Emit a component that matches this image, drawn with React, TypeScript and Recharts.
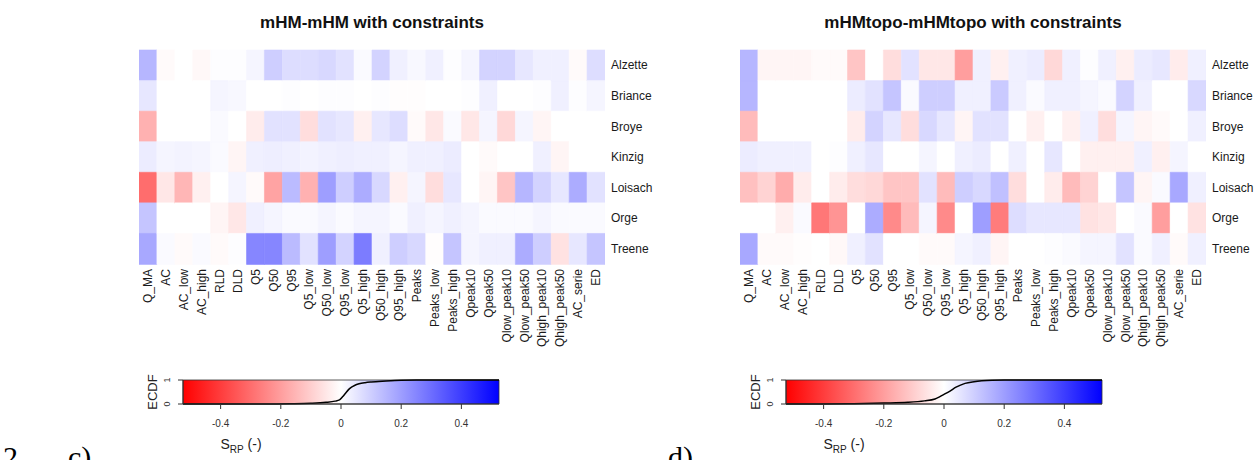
import React from "react";
import { ComposedChart, Bar, Cell, XAxis, YAxis, Line, ReferenceArea } from "recharts";

const rivers = ["Alzette", "Briance", "Broye", "Kinzig", "Loisach", "Orge", "Treene"];

const metrics = [
  "Q_MA", "AC", "AC_low", "AC_high", "RLD", "DLD", "Q5", "Q50", "Q95",
  "Q5_low", "Q50_low", "Q95_low", "Q5_high", "Q50_high", "Q95_high",
  "Peaks", "Peaks_low", "Peaks_high", "Qpeak10", "Qpeak50",
  "Qlow_peak10", "Qlow_peak50", "Qhigh_peak10", "Qhigh_peak50", "AC_serie", "ED",
];

// S_RP per river (rows) and metric (columns)
const mhmValues = [
  [0.15, -0.01, 0.0, -0.015, 0.005, 0.005, 0.02, 0.1, 0.07, 0.07, 0.08, 0.06, 0.01, 0.09, 0.03, 0.015, 0.03, 0.005, 0.02, 0.09, 0.09, 0.05, 0.03, 0.03, -0.01, 0.07],
  [0.05, 0.0, 0.0, 0.0, 0.02, 0.015, 0.0, 0.0, 0.005, 0.0, 0.005, 0.005, 0.0, 0.005, -0.005, -0.005, 0.0, 0.0, 0.005, 0.03, 0.0, 0.0, 0.005, 0.03, 0.005, 0.02],
  [-0.16, 0.0, 0.0, 0.0, 0.01, 0.0, -0.04, 0.06, 0.06, -0.07, 0.06, 0.05, -0.03, 0.05, 0.07, -0.01, -0.05, 0.01, -0.05, 0.02, -0.08, 0.02, -0.02, 0.0, 0.0, 0.0],
  [0.04, 0.02, 0.025, 0.02, 0.01, -0.02, 0.03, 0.035, 0.03, 0.025, 0.03, 0.035, 0.03, 0.03, 0.02, 0.03, 0.03, 0.04, 0.0, -0.01, 0.0, 0.0, 0.03, -0.02, 0.0, 0.0],
  [-0.3, -0.05, -0.15, -0.03, 0.0, 0.02, -0.01, -0.19, 0.14, -0.16, 0.2, 0.1, 0.17, 0.08, -0.03, 0.02, -0.07, 0.05, 0.0, -0.02, -0.12, 0.15, 0.09, 0.05, 0.17, 0.06],
  [0.12, 0.0, 0.0, 0.0, -0.02, -0.05, 0.03, 0.02, 0.01, 0.01, 0.02, 0.01, 0.02, 0.02, 0.01, 0.03, 0.02, 0.03, 0.02, 0.01, 0.01, 0.01, 0.02, 0.01, 0.01, 0.01],
  [0.18, 0.01, -0.01, 0.01, -0.01, 0.005, 0.25, 0.25, 0.14, 0.06, 0.2, 0.09, 0.27, 0.03, 0.1, 0.08, -0.005, 0.12, 0.02, 0.03, 0.03, 0.17, 0.1, -0.06, 0.05, 0.12],
];

const topoValues = [
  [0.15, -0.02, -0.02, -0.02, -0.01, -0.01, -0.12, 0.0, -0.07, 0.06, -0.05, -0.05, -0.2, 0.03, -0.03, 0.03, 0.04, -0.08, 0.03, 0.005, 0.03, -0.03, 0.04, 0.05, -0.04, 0.03],
  [0.15, 0.0, 0.0, 0.0, 0.0, 0.0, 0.04, 0.06, 0.12, 0.01, 0.1, 0.1, 0.03, 0.03, 0.11, 0.03, 0.01, 0.03, 0.03, 0.02, 0.01, 0.09, 0.03, 0.0, 0.0, 0.08],
  [-0.14, 0.0, 0.0, 0.0, 0.0, 0.0, -0.04, 0.09, 0.05, -0.07, 0.08, 0.05, -0.02, 0.06, 0.06, 0.0, -0.03, 0.0, -0.03, 0.03, -0.07, 0.02, -0.02, -0.01, 0.0, 0.03],
  [0.04, 0.03, 0.03, 0.03, 0.0, 0.005, 0.03, 0.05, 0.0, 0.0, 0.02, 0.0, 0.03, 0.04, 0.0, 0.03, 0.0, 0.05, 0.0, -0.03, -0.03, -0.03, 0.03, -0.03, 0.02, 0.0],
  [-0.13, -0.09, -0.17, -0.04, 0.0, -0.04, -0.07, -0.08, -0.12, -0.12, 0.06, -0.14, 0.1, 0.08, 0.13, -0.07, 0.0, -0.04, -0.14, -0.09, 0.0, 0.12, -0.02, 0.01, 0.18, 0.03],
  [0.0, 0.0, -0.03, 0.01, -0.28, -0.22, 0.0, 0.17, -0.24, -0.14, 0.02, -0.24, 0.0, 0.2, -0.27, 0.07, 0.05, 0.05, 0.05, -0.06, -0.05, 0.0, 0.01, -0.2, 0.0, -0.06],
  [0.18, -0.01, -0.01, -0.005, 0.0, -0.015, 0.03, 0.06, 0.0, 0.0, -0.01, -0.01, 0.02, 0.03, -0.02, 0.0, 0.0, 0.005, 0.01, 0.02, 0.02, 0.06, 0.01, 0.03, -0.01, 0.03],
];

// ECDF curves drawn over the colour bars
const ecdfMhm = [
  { x: -0.525, y: 0 }, { x: -0.25, y: 0 }, { x: -0.17, y: 0.01 }, { x: -0.1, y: 0.03 },
  { x: -0.05, y: 0.07 }, { x: -0.02, y: 0.12 }, { x: -0.005, y: 0.17 }, { x: 0.005, y: 0.3 },
  { x: 0.015, y: 0.45 }, { x: 0.025, y: 0.6 }, { x: 0.035, y: 0.7 }, { x: 0.045, y: 0.77 },
  { x: 0.06, y: 0.84 }, { x: 0.08, y: 0.89 }, { x: 0.1, y: 0.92 }, { x: 0.15, y: 0.96 },
  { x: 0.2, y: 0.99 }, { x: 0.25, y: 1 }, { x: 0.525, y: 1 },
];

const ecdfTopo = [
  { x: -0.525, y: 0 }, { x: -0.4, y: 0.005 }, { x: -0.3, y: 0.015 }, { x: -0.2, y: 0.04 },
  { x: -0.12, y: 0.07 }, { x: -0.065, y: 0.13 }, { x: -0.03, y: 0.21 }, { x: -0.015, y: 0.3 },
  { x: 0, y: 0.4 }, { x: 0.02, y: 0.54 }, { x: 0.04, y: 0.7 }, { x: 0.07, y: 0.86 },
  { x: 0.1, y: 0.93 }, { x: 0.16, y: 0.99 }, { x: 0.2, y: 1 }, { x: 0.525, y: 1 },
];

const srpTicks = [-0.4, -0.2, 0, 0.2, 0.4];
const ecdfTicks = [0, 0.5, 1];

const LIM = 0.525;
const FONT = "'Liberation Sans', Arial, Helvetica, sans-serif";
const SERIF = "'Liberation Serif', 'Times New Roman', serif";

function srpColor(v: number) {
  const t = Math.min(1, Math.abs(v) / LIM);
  const c = Math.round(255 * (1 - t));
  return v < 0 ? `rgb(255,${c},${c})` : `rgb(${c},${c},255)`;
}

const MetricTick = (props: any) => {
  const { x, y, payload } = props;
  const label = metrics[Math.floor(payload.value)];
  return (
    <text x={x} y={y} transform={`rotate(-90 ${x} ${y})`} textAnchor="end" dy="0.35em"
      fontSize={12} fill="#1a1a1a" fontFamily={FONT}>
      {label}
    </text>
  );
};

const RiverTick = (props: any) => {
  const { x, y, payload } = props;
  return (
    <text x={x} y={y} textAnchor="start" dy="0.35em" fontSize={12} fill="#1a1a1a" fontFamily={FONT}>
      {payload.value}
    </text>
  );
};

const EcdfTick = (props: any) => {
  const { x, y, payload } = props;
  if (payload.value === 0.5) return null;
  return (
    <text x={x} y={y} transform={`rotate(-90 ${x} ${y})`} textAnchor="middle" dy="0.35em"
      fontSize={9} fill="#333" fontFamily={FONT}>
      {payload.value}
    </text>
  );
};

const Heatmap = ({ values }: { values: number[][] }) => {
  const rows = rivers.map((river) => {
    const row: any = { river };
    metrics.forEach((m) => { row[m] = 1; });
    return row;
  });
  return (
    <ComposedChart width={680} height={370} data={rows} layout="vertical"
      margin={{ top: 50, left: 139, right: 15, bottom: 6 }} barCategoryGap={0}>
      <XAxis type="number" domain={[0, metrics.length]} allowDataOverflow
        ticks={metrics.map((_, i) => i + 0.5)} interval={0} height={100}
        axisLine={false} tickLine={false} tickSize={0} tickMargin={5} tick={<MetricTick />} />
      <YAxis type="category" dataKey="river" orientation="right" width={60}
        axisLine={false} tickLine={false} tickSize={0} tickMargin={6} tick={<RiverTick />} />
      {metrics.map((m, c) => (
        <Bar key={m} dataKey={m} stackId="s" isAnimationActive={false}>
          {rivers.map((river, r) => {
            const col = srpColor(values[r][c]);
            return <Cell key={river} fill={col} stroke={col} strokeWidth={0.6} />;
          })}
        </Bar>
      ))}
    </ComposedChart>
  );
};

const Colorbar = ({ ecdf, id }: { ecdf: { x: number; y: number }[]; id: string }) => (
  <ComposedChart width={460} height={100} data={ecdf}
    margin={{ top: 20, left: 53, right: 61, bottom: 26 }}>
    <defs>
      <linearGradient id={id} x1="0" y1="0" x2="1" y2="0">
        <stop offset="0%" stopColor="#ff0000" />
        <stop offset="50%" stopColor="#ffffff" />
        <stop offset="100%" stopColor="#0000ff" />
      </linearGradient>
    </defs>
    <XAxis dataKey="x" type="number" domain={[-LIM, LIM]} allowDataOverflow ticks={srpTicks}
      height={30} tickSize={5} tickMargin={11} stroke="#333"
      tick={{ fontSize: 10, fill: "#333", fontFamily: FONT }} />
    <YAxis type="number" domain={[0, 1]} ticks={ecdfTicks} width={30}
      tickSize={5} tickMargin={11} stroke="#333" tick={<EcdfTick />} />
    <ReferenceArea x1={-LIM} x2={LIM} y1={0} y2={1} fill={`url(#${id})`} fillOpacity={1}
      stroke="#333" strokeWidth={0.8} ifOverflow="visible" />
    <Line dataKey="y" type="monotone" dot={false} stroke="#000" strokeWidth={1.5}
      isAnimationActive={false} />
  </ComposedChart>
);

const abs = (left: number, top: number): React.CSSProperties => ({ position: "absolute", left, top });

const Panel = ({ dx, cbx, title, values, ecdf, id }: any) => (
  <>
    <div style={{ ...abs(dx + 172, 14), width: 400, textAlign: "center", fontWeight: "bold",
      fontSize: 17, lineHeight: "17px", color: "#111" }}>{title}</div>
    <div style={abs(dx, 0)}><Heatmap values={values} /></div>
    <div style={abs(cbx, 360)}><Colorbar ecdf={ecdf} id={id} /></div>
    <div style={{ ...abs(cbx + 52, 392), transform: "translate(-50%, -50%) rotate(-90deg)",
      fontSize: 13, lineHeight: "13px", whiteSpace: "nowrap", color: "#222" }}>ECDF</div>
    <div style={{ ...abs(cbx + 141, 437), transform: "translateX(-50%)", fontSize: 14,
      lineHeight: "14px", whiteSpace: "nowrap", color: "#222" }}>
      S<sub style={{ fontSize: 10 }}>RP</sub> (-)
    </div>
  </>
);

export default function App() {
  return (
    <div style={{ position: "absolute", left: 0, top: 0, width: 1259, height: 460, overflow: "hidden",
      background: "#fff", fontFamily: FONT }}>
      <Panel dx={0} cbx={100} title="mHM-mHM with constraints" values={mhmValues} ecdf={ecdfMhm} id="cbL" />
      <Panel dx={601} cbx={703} title="mHMtopo-mHMtopo with constraints" values={topoValues} ecdf={ecdfTopo} id="cbR" />
      <div style={{ ...abs(3, 442), fontFamily: SERIF, fontSize: 30, lineHeight: "30px" }}>2</div>
      <div style={{ ...abs(68, 442), fontFamily: SERIF, fontSize: 30, lineHeight: "30px" }}>c)</div>
      <div style={{ ...abs(668, 442), fontFamily: SERIF, fontSize: 30, lineHeight: "30px" }}>d)</div>
    </div>
  );
}
